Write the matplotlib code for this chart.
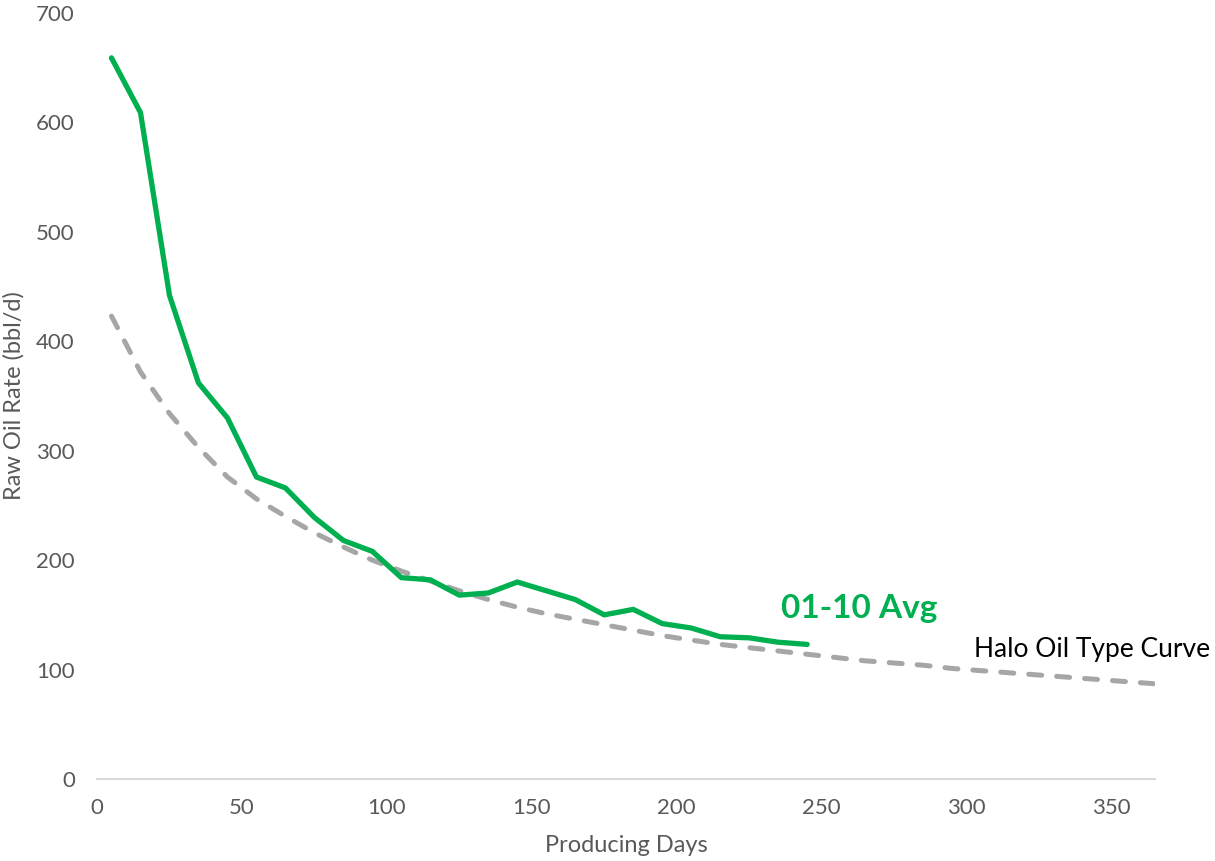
import matplotlib
matplotlib.use("Agg")
import matplotlib.pyplot as plt

# Data
avg_days = [5, 15, 25, 35, 45, 55, 65, 75, 85, 95, 105, 115, 125, 135, 145,
            155, 165, 175, 185, 195, 205, 215, 225, 235, 245]
avg_rate = [659, 609, 442, 362, 330, 276, 266, 239, 218, 208, 184, 182, 168, 170, 180,
            172, 164, 150, 155, 142, 138, 130, 129, 125, 123]

tc_days = [5, 15, 25, 35, 45, 55, 65, 75, 85, 95, 105, 115, 125, 135, 145, 155, 165,
           175, 185, 195, 205, 215, 225, 235, 245, 255, 265, 275, 285, 295, 305, 315,
           325, 335, 345, 355, 365]
tc_rate = [423, 372, 334, 303, 276, 256, 240, 225, 212, 200, 190, 181, 172, 164, 157,
           151, 146, 141, 136, 131, 127, 123, 120, 117, 114, 111, 108, 106, 104, 101,
           99, 97, 95, 93, 91, 89, 87]

x_ticks = [0, 50, 100, 150, 200, 250, 300, 350]
y_ticks = [0, 100, 200, 300, 400, 500, 600, 700]

plt.rcParams['font.family'] = ['Lato', 'DejaVu Sans']

fig = plt.figure(figsize=(12.15, 8.61), dpi=100)
ax = fig.add_axes([97/1215, 82/861, (1155-97)/1215, (779-13)/861])

ax.plot(tc_days, tc_rate, color='#A6A6A6', lw=3.6, dashes=(2.6, 3.0),
        dash_capstyle='round', solid_capstyle='round')
ax.plot(avg_days, avg_rate, color='#00B050', lw=3.8, solid_capstyle='round',
        solid_joinstyle='round')

ax.set_xlim(0, 365)
ax.set_ylim(0, 700)
ax.set_xticks(x_ticks)
ax.set_yticks(y_ticks)
ax.tick_params(length=0, labelsize=16, colors='#595959')
ax.tick_params(axis='x', pad=14)
ax.tick_params(axis='y', pad=16)
for s in ['top', 'right', 'left']:
    ax.spines[s].set_visible(False)
ax.spines['bottom'].set_color('#D9D9D9')
ax.spines['bottom'].set_linewidth(1.5)

ax.set_xlabel('Producing Days', fontsize=17, color='#595959', labelpad=12)
ax.set_ylabel('Raw Oil Rate (bbl/d)', fontsize=17, color='#595959', labelpad=10)
ax.yaxis.set_label_coords(-72/1058, 0.5)

ax.text(263, 156, '01-10 Avg', color='#00B050', fontsize=24, fontweight='bold',
        ha='center', va='center')
ax.text(384, 118, 'Halo Oil Type Curve', color='#000000', fontsize=19,
        ha='right', va='center', clip_on=False)

fig.savefig('out.png', dpi=100)
